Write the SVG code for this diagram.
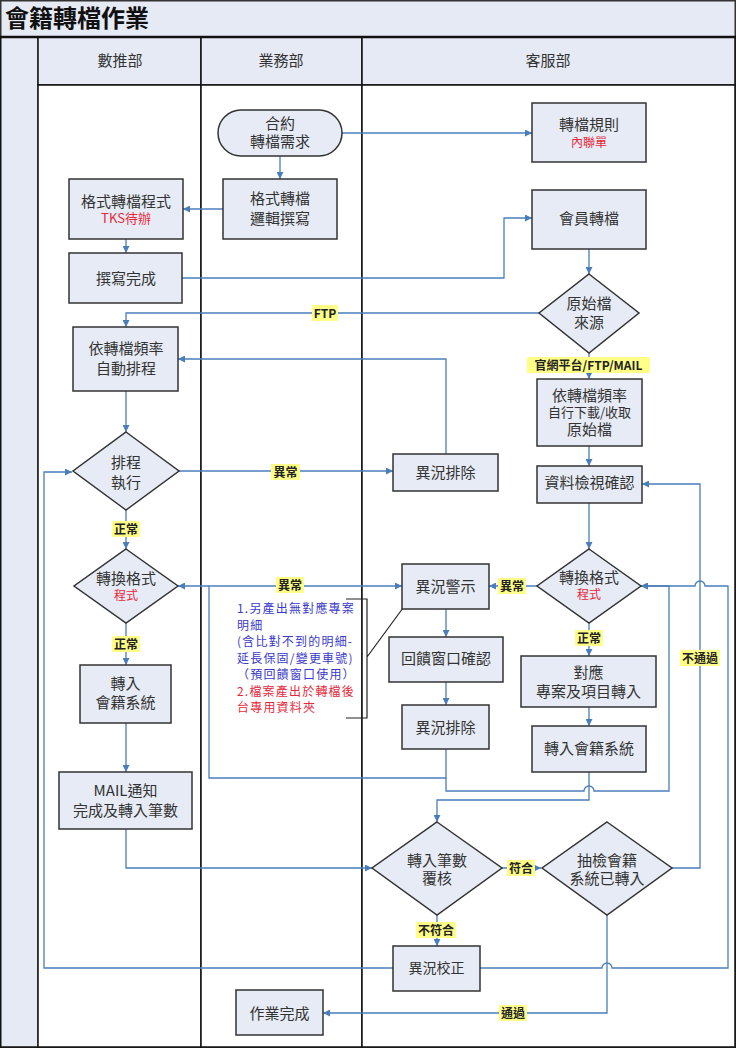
<svg xmlns="http://www.w3.org/2000/svg" width="736" height="1048" viewBox="0 0 736 1048">
<style>
.lane{fill:#fff;stroke:#111;stroke-width:1.5}
.hdr{fill:#e6eaf4;stroke:#111;stroke-width:1.5}
.nd{fill:#e6ebf5;stroke:#333;stroke-width:1.5}
.t{font-family:"Noto Sans CJK TC","Noto Sans",sans-serif;font-size:15px;fill:#333;text-anchor:middle}
.s{font-size:13px}
.r{fill:#e8283a;font-size:12px}
.c{fill:none;stroke:#4a7ebb;stroke-width:1.3}
.a{marker-end:url(#ah)}
.lb{fill:#ffff88}
.lt{font-family:"Noto Sans CJK TC","Noto Sans",sans-serif;font-size:12px;font-weight:bold;fill:#222;text-anchor:middle}
.an{font-family:"Noto Sans CJK TC","Noto Sans",sans-serif;font-size:12px;letter-spacing:1.2px}
</style>
<defs>
<marker id="ah" viewBox="0 0 10 10" refX="10" refY="5" markerWidth="7" markerHeight="7" markerUnits="userSpaceOnUse" orient="auto">
<path d="M0,0 L10,5 L0,10 z" fill="#4a7ebb"/>
</marker>
</defs>
<g id="frame">
<rect x="0.75" y="0.75" width="734.5" height="1046.5" fill="#fff" stroke="#333" stroke-width="1.5"/>
<rect x="0.75" y="0.75" width="734.5" height="36.5" fill="#e6eaf4" stroke="#333" stroke-width="1.5"/>
<text x="5" y="27" font-family="&quot;Noto Sans CJK TC&quot;,sans-serif" font-size="24" font-weight="bold" fill="#111">會籍轉檔作業</text>
<rect x="0.75" y="37" width="37.5" height="1010" fill="#e6eaf4" stroke="#111" stroke-width="1.5"/>
<rect x="38" y="37" width="163" height="48" class="hdr"/>
<rect x="201" y="37" width="161" height="48" class="hdr"/>
<rect x="362" y="37" width="373" height="48" class="hdr"/>
<rect x="38" y="85" width="163" height="962" class="lane"/>
<rect x="201" y="85" width="161" height="962" class="lane"/>
<rect x="362" y="85" width="373" height="962" class="lane"/>
<line x1="0" y1="37" x2="736" y2="37" stroke="#111" stroke-width="2.5"/>
<text class="t" x="120" y="66">數推部</text>
<text class="t" x="281" y="66">業務部</text>
<text class="t" x="548" y="66">客服部</text>
</g>
<g id="connectors">
<path class="c a" d="M342,133 H532"/>
<path class="c a" d="M280,156 V179"/>
<path class="c a" d="M223,209 H183"/>
<path class="c a" d="M126,239 V253"/>
<path class="c a" d="M182,278 H504 V218 H532"/>
<path class="c a" d="M589,249 V274"/>
<path class="c a" d="M539,313 H126 V327"/>
<path class="c a" d="M589,353 V379"/>
<path class="c a" d="M589,446 V466"/>
<path class="c a" d="M446,454 V359 H178"/>
<path class="c a" d="M126,391 V432"/>
<path class="c a" d="M179,471 H393"/>
<path class="c a" d="M126,510 V549"/>
<path class="c a" d="M126,623 V665"/>
<path class="c a" d="M126,723 V772"/>
<path class="c a" d="M126,829 V868 H372"/>
<path class="c a" d="M589,503 V549"/>
<path class="c a" d="M537,586 H489"/>
<path class="c a" d="M589,623 V656"/>
<path class="c a" d="M589,707 V726"/>
<path class="c a" d="M209,586 H402"/>
<path class="c a" d="M446,749 V778 H209 V586 H178"/>
<path class="c a" d="M446,609 V637"/>
<path class="c a" d="M446,682 V705"/>
<path class="c a" d="M446,778 V791 H584 a5,5 0 0 1 10,0 H669 V586 H641"/>
<path class="c a" d="M589,772 V800 H437 V822"/>
<path class="c a" d="M393,968 H44 V472 H72"/>
<path class="c a" d="M480,968 H602 a5,5 0 0 1 10,0 H728 V586 H705 a5,5 0 0 0 -10,0 H641"/>
<path class="c a" d="M672,868 H700 V484 H642"/>
<path class="c a" d="M502,868 H541"/>
<path class="c a" d="M437,915 V946"/>
<path class="c a" d="M607,915 V1013 H323"/>
<path d="M346,599 H367 V718 H346 M367,657 L403,608" fill="none" stroke="#222" stroke-width="1.2"/>
<g id="labels">
<rect class="lb" x="312" y="305" width="26" height="16"/><text class="lt" x="325" y="317.5">FTP</text>
<rect class="lb" x="527" y="357" width="123" height="16"/><text class="lt" x="588.5" y="369.5">官網平台/FTP/MAIL</text>
<rect class="lb" x="271" y="464" width="29" height="16"/><text class="lt" x="285.5" y="476.5">異常</text>
<rect class="lb" x="112" y="521" width="28" height="16"/><text class="lt" x="126" y="533.5">正常</text>
<rect class="lb" x="276" y="577" width="28" height="16"/><text class="lt" x="290" y="589.5">異常</text>
<rect class="lb" x="112" y="636" width="28" height="16"/><text class="lt" x="126" y="648.5">正常</text>
<rect class="lb" x="498" y="578" width="28" height="16"/><text class="lt" x="512" y="590.5">異常</text>
<rect class="lb" x="575" y="630" width="28" height="16"/><text class="lt" x="589" y="642.5">正常</text>
<rect class="lb" x="680" y="650" width="40" height="16"/><text class="lt" x="700" y="662.5">不通過</text>
<rect class="lb" x="507" y="860" width="28" height="16"/><text class="lt" x="521" y="872.5">符合</text>
<rect class="lb" x="416" y="922" width="40" height="16"/><text class="lt" x="436" y="934.5">不符合</text>
<rect class="lb" x="499" y="1005" width="28" height="16"/><text class="lt" x="513" y="1017.5">通過</text>
</g>
</g>
<g id="n_contract"><rect class="nd" x="218" y="110" width="124" height="46" rx="23"/><text class="t" x="280" y="128.5">合約</text><text class="t" x="280" y="146.5">轉檔需求</text></g>
<g id="n_logic"><rect class="nd" x="223" y="179" width="114" height="60"/><text class="t" x="280" y="203.5">格式轉檔</text><text class="t" x="280" y="223.5">邏輯撰寫</text></g>
<g id="n_rule"><rect class="nd" x="532" y="103" width="114" height="59"/><text class="t" x="589" y="129.5">轉檔規則</text><text class="t r" x="589" y="146.5">內聯單</text></g>
<g id="n_member"><rect class="nd" x="532" y="190" width="114" height="59"/><text class="t" x="589" y="224">會員轉檔</text></g>
<g id="n_program"><rect class="nd" x="69" y="179" width="114" height="60"/><text class="t" x="126" y="206.5">格式轉檔程式</text><text class="t r" x="126" y="222.5" style="font-size:13px">TKS待辦</text></g>
<g id="n_written"><rect class="nd" x="69" y="253" width="113" height="50"/><text class="t" x="126" y="283.5">撰寫完成</text></g>
<g id="n_source"><polygon class="nd" points="589,274 639,313 589,353 539,313"/><text class="t" x="589" y="308.5">原始檔</text><text class="t" x="589" y="327.5">來源</text></g>
<g id="n_schedule"><rect class="nd" x="73" y="327" width="105" height="64"/><text class="t" x="126" y="353.5">依轉檔頻率</text><text class="t" x="126" y="373.5">自動排程</text></g>
<g id="n_download"><rect class="nd" x="537" y="379" width="105" height="67"/><text class="t" x="589.5" y="400.5">依轉檔頻率</text><text class="t s" x="589.5" y="417">自行下載/收取</text><text class="t" x="589.5" y="434.5">原始檔</text></g>
<g id="n_check"><rect class="nd" x="537" y="466" width="105" height="37"/><text class="t" x="589.5" y="487.5">資料檢視確認</text></g>
<g id="n_run"><polygon class="nd" points="126,432 179,471 126,510 73,471"/><text class="t" x="126" y="467.5">排程</text><text class="t" x="126" y="487.5">執行</text></g>
<g id="n_except1"><rect class="nd" x="393" y="454" width="105" height="37"/><text class="t" x="445.5" y="477.5">異況排除</text></g>
<g id="n_convL"><polygon class="nd" points="126,549 178,586 126,623 74,586"/><text class="t" x="126" y="583.5">轉換格式</text><text class="t r" x="126" y="600">程式</text></g>
<g id="n_importL"><rect class="nd" x="80" y="665" width="91" height="58"/><text class="t" x="125.5" y="688.5">轉入</text><text class="t" x="125.5" y="707.5">會籍系統</text></g>
<g id="n_alert"><rect class="nd" x="402" y="564" width="87" height="45"/><text class="t" x="445.5" y="591.5">異況警示</text></g>
<g id="n_feedback"><rect class="nd" x="389" y="637" width="114" height="45"/><text class="t" x="446" y="664">回饋窗口確認</text></g>
<g id="n_except2"><rect class="nd" x="402" y="705" width="87" height="44"/><text class="t" x="445.5" y="732.5">異況排除</text></g>
<g id="n_note">
<text class="an" x="237" y="613" fill="#3a3acc">1.另產出無對應專案</text>
<text class="an" x="237" y="629.5" fill="#3a3acc">明細</text>
<text class="an" x="237" y="646" fill="#3a3acc">(含比對不到的明細-</text>
<text class="an" x="237" y="662.5" fill="#3a3acc">延長保固/變更車號)</text>
<text class="an" x="237" y="679" fill="#3a3acc">（預回饋窗口使用）</text>
<text class="an" x="237" y="695.5" fill="#e8283a">2.檔案產出於轉檔後</text>
<text class="an" x="237" y="712" fill="#e8283a">台專用資料夾</text>
</g>
<g id="n_convR"><polygon class="nd" points="589,549 641,586 589,623 537,586"/><text class="t" x="589" y="582.5">轉換格式</text><text class="t r" x="589" y="599">程式</text></g>
<g id="n_map"><rect class="nd" x="521" y="656" width="135" height="51"/><text class="t" x="588.5" y="677.5">對應</text><text class="t" x="588.5" y="696.5">專案及項目轉入</text></g>
<g id="n_importR"><rect class="nd" x="532" y="726" width="114" height="46"/><text class="t" x="589" y="753.5">轉入會籍系統</text></g>
<g id="n_mail"><rect class="nd" x="59" y="772" width="133" height="57"/><text class="t" x="125.5" y="795.5">MAIL通知</text><text class="t" x="125.5" y="815.5">完成及轉入筆數</text></g>
<g id="n_count"><polygon class="nd" points="437,822 502,868 437,915 372,868"/><text class="t" x="437" y="865.5">轉入筆數</text><text class="t" x="437" y="883.5">覆核</text></g>
<g id="n_sample"><polygon class="nd" points="607,822 672,868 607,915 542,868"/><text class="t" x="607" y="865.5">抽檢會籍</text><text class="t" x="607" y="883.5">系統已轉入</text></g>
<g id="n_fix"><rect class="nd" x="393" y="946" width="87" height="45"/><text class="t" x="436.5" y="973" style="font-size:14px">異況校正</text></g>
<g id="n_done"><rect class="nd" x="236" y="990" width="87" height="45"/><text class="t" x="279.5" y="1018.5">作業完成</text></g>
</svg>
